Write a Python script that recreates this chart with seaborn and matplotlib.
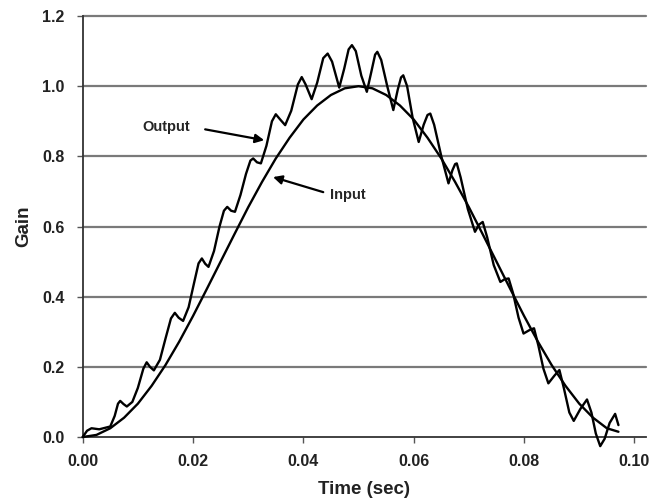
import matplotlib
matplotlib.use("Agg")
import matplotlib.pyplot as plt
import seaborn as sns
import pandas as pd

# ---- data ----
input_t = [0.0, 0.0025, 0.005, 0.0075, 0.010, 0.0125, 0.015, 0.0175, 0.020, 0.0225,
           0.025, 0.0275, 0.030, 0.0325, 0.035, 0.0375, 0.040, 0.0425, 0.045, 0.0475,
           0.050, 0.0525, 0.055, 0.0575, 0.060, 0.0625, 0.065, 0.0675, 0.070, 0.0725,
           0.075, 0.0775, 0.080, 0.0825, 0.085, 0.0875, 0.090, 0.0925, 0.095, 0.0971]
input_gain = [0.0, 0.006, 0.025, 0.055, 0.095, 0.146, 0.205, 0.272, 0.345, 0.422,
              0.500, 0.578, 0.655, 0.727, 0.794, 0.853, 0.905, 0.945, 0.975, 0.994,
              1.000, 0.994, 0.975, 0.945, 0.905, 0.853, 0.794, 0.727, 0.655, 0.578,
              0.500, 0.422, 0.345, 0.272, 0.205, 0.146, 0.095, 0.055, 0.025, 0.015]

output_t = [0.0000, 0.0008, 0.0016, 0.0030, 0.0050, 0.0058, 0.0064, 0.0068, 0.0074, 0.0080,
            0.0090, 0.0100, 0.0110, 0.0116, 0.0122, 0.0129, 0.0140, 0.0150, 0.0160, 0.0167,
            0.0174, 0.0182, 0.0192, 0.0202, 0.0210, 0.0216, 0.0222, 0.0228, 0.0238, 0.0248,
            0.0256, 0.0262, 0.0269, 0.0276, 0.0286, 0.0296, 0.0304, 0.0309, 0.0316, 0.0323,
            0.0333, 0.0343, 0.0350, 0.0358, 0.0367, 0.0378, 0.0390, 0.0397, 0.0404, 0.0415,
            0.0425, 0.0436, 0.0444, 0.0452, 0.0465, 0.0474, 0.0482, 0.0488, 0.0495, 0.0505,
            0.0515, 0.0523, 0.0530, 0.0534, 0.0541, 0.0552, 0.0563, 0.0571, 0.0577, 0.0581,
            0.0588, 0.0598, 0.0609, 0.0618, 0.0625, 0.0630, 0.0637, 0.0650, 0.0663, 0.0670,
            0.0675, 0.0678, 0.0685, 0.0698, 0.0711, 0.0718, 0.0725, 0.0733, 0.0745, 0.0757,
            0.0765, 0.0772, 0.0780, 0.0790, 0.0799, 0.0810, 0.0818, 0.0826, 0.0835, 0.0844,
            0.0855, 0.0864, 0.0872, 0.0882, 0.0890, 0.0902, 0.0914, 0.0922, 0.0930, 0.0938,
            0.0946, 0.0955, 0.0965, 0.0971]
output_gain = [0.000, 0.018, 0.025, 0.022, 0.030, 0.060, 0.095, 0.103, 0.094, 0.087,
               0.100, 0.140, 0.195, 0.213, 0.200, 0.190, 0.220, 0.280, 0.338, 0.354,
               0.340, 0.331, 0.370, 0.440, 0.495, 0.509, 0.494, 0.485, 0.530, 0.600,
               0.645, 0.656, 0.645, 0.642, 0.690, 0.750, 0.788, 0.794, 0.783, 0.780,
               0.830, 0.900, 0.920, 0.905, 0.889, 0.930, 1.005, 1.026, 1.005, 0.963,
               1.010, 1.080, 1.093, 1.070, 0.996, 1.050, 1.105, 1.117, 1.100, 1.030,
               0.984, 1.040, 1.090, 1.098, 1.075, 1.000, 0.932, 0.990, 1.025, 1.031,
               1.000, 0.910, 0.841, 0.890, 0.918, 0.922, 0.890, 0.800, 0.723, 0.760,
               0.778, 0.780, 0.740, 0.650, 0.585, 0.605, 0.613, 0.570, 0.490, 0.442,
               0.450, 0.452, 0.410, 0.340, 0.295, 0.305, 0.310, 0.260, 0.195, 0.153,
               0.175, 0.191, 0.140, 0.070, 0.046, 0.080, 0.107, 0.070, 0.010, -0.026,
               -0.005, 0.040, 0.066, 0.034]

x_ticks = [0.00, 0.02, 0.04, 0.06, 0.08, 0.10]
x_tick_labels = ["0.00", "0.02", "0.04", "0.06", "0.08", "0.10"]
y_ticks = [0.0, 0.2, 0.4, 0.6, 0.8, 1.0, 1.2]
y_tick_labels = ["0.0", "0.2", "0.4", "0.6", "0.8", "1.0", "1.2"]

# ---- plot ----
sns.set_style("white")
plt.rcParams["font.family"] = ["Liberation Sans", "DejaVu Sans"]

fig = plt.figure(figsize=(6.63, 5.01), dpi=100)
ax = fig.add_axes([0.1247, 0.1277, 0.8497, 0.8403])

df_in = pd.DataFrame({"t": input_t, "gain": input_gain})
df_out = pd.DataFrame({"t": output_t, "gain": output_gain})

# gridlines
for yv in y_ticks[1:]:
    ax.axhline(yv, color="#7a7a7a", lw=1.6, zorder=1)

sns.lineplot(data=df_in, x="t", y="gain", ax=ax, color="black", lw=1.7,
             sort=False, estimator=None, zorder=3)
sns.lineplot(data=df_out, x="t", y="gain", ax=ax, color="black", lw=1.7,
             sort=False, estimator=None, zorder=3)

ax.set_xlim(0, 0.1021)
ax.set_ylim(0, 1.2)
ax.set_xticks(x_ticks)
ax.set_xticklabels(x_tick_labels, fontsize=11.5, fontweight="bold", color="#222222")
ax.set_yticks(y_ticks)
ax.set_yticklabels(y_tick_labels, fontsize=11.5, fontweight="bold", color="#222222")
ax.tick_params(axis="both", direction="out", length=4, width=1, color="#555555",
               bottom=True, left=True)
ax.tick_params(axis="x", pad=8)
ax.tick_params(axis="y", pad=9)

for s in ["top", "right"]:
    ax.spines[s].set_visible(False)
ax.spines["left"].set_color("#333333")
ax.spines["left"].set_linewidth(1.3)
ax.spines["bottom"].set_color("#333333")
ax.spines["bottom"].set_linewidth(1.3)
for line in ax.get_lines():
    line.set_clip_on(False)

ax.set_xlabel("Time (sec)", fontsize=13.5, fontweight="bold", color="#222222", labelpad=9)
ax.set_ylabel("Gain", fontsize=13.5, fontweight="bold", color="#222222", labelpad=7)

arrow = dict(arrowstyle="-|>", color="black", lw=1.6, mutation_scale=13,
             shrinkA=0, shrinkB=0)
ax.annotate("", xy=(0.0329, 0.846), xytext=(0.0222, 0.877), arrowprops=arrow, zorder=5)
ax.text(0.0151, 0.883, "Output", fontsize=10.5, fontweight="bold", ha="center", va="center")
ax.annotate("", xy=(0.0345, 0.741), xytext=(0.0436, 0.698), arrowprops=arrow, zorder=5)
ax.text(0.0481, 0.689, "Input", fontsize=10.5, fontweight="bold", ha="center", va="center")

fig.savefig("out.png", dpi=100)
